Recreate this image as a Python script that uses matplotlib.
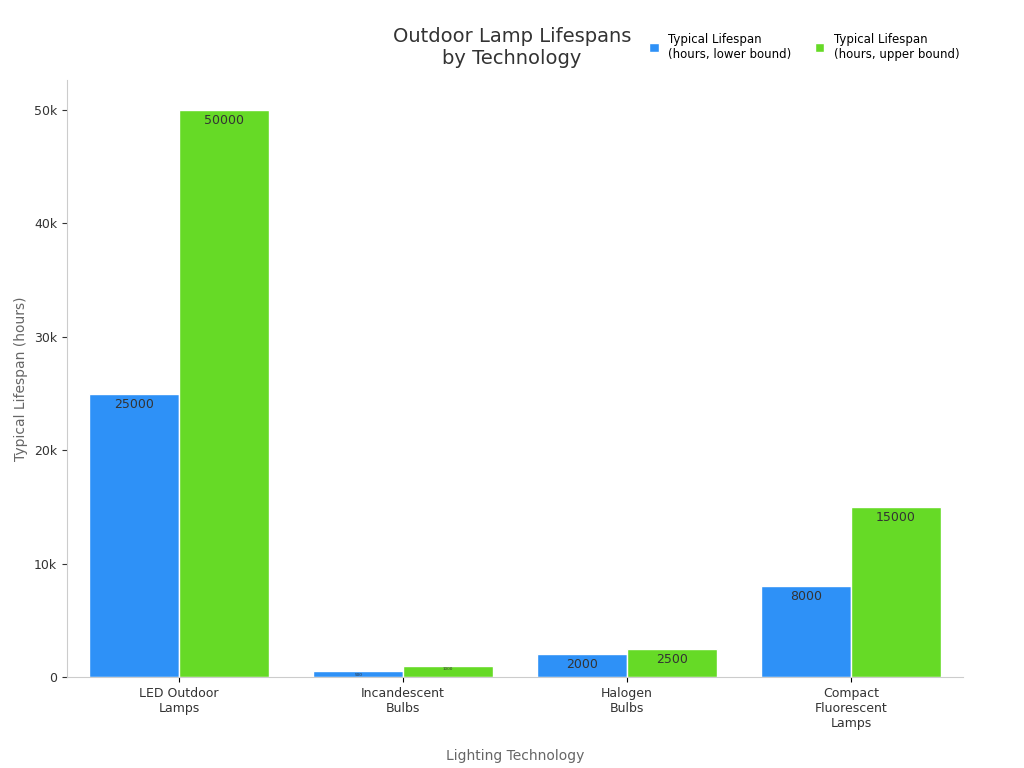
import matplotlib
matplotlib.use("Agg")
import matplotlib.pyplot as plt
import numpy as np
from matplotlib.ticker import FuncFormatter

categories = ["LED Outdoor\nLamps", "Incandescent\nBulbs", "Halogen\nBulbs", "Compact\nFluorescent\nLamps"]
lower = [25000, 500, 2000, 8000]
upper = [50000, 1000, 2500, 15000]
series_names = ["Typical Lifespan\n(hours, lower bound)", "Typical Lifespan\n(hours, upper bound)"]
colors = ["#2E91F7", "#66DA26"]

fig = plt.figure(figsize=(10.24, 7.68), dpi=100)
ax = fig.add_axes([67/1024, 1-677/768, 896/1024, 597/768])
x = np.arange(len(categories))
w = 0.4
for vals, off, c, name in [(lower, -w/2, colors[0], series_names[0]), (upper, w/2, colors[1], series_names[1])]:
    bars = ax.bar(x + off, vals, w, color=c, edgecolor="white", linewidth=1, label=name)
    for b, v in zip(bars, vals):
        fs = 9 if v >= 2000 else 3
        ax.annotate(str(v), (b.get_x() + b.get_width()/2, v), xytext=(0, -3 if v >= 2000 else -1),
                    textcoords="offset points", ha="center", va="top", fontsize=fs, color="#333333")

ax.set_xlim(-0.5, 3.5)
ax.set_ylim(0, 52650)
ax.set_xticks(x)
ax.set_xticklabels(categories, fontsize=9, color="#333333")
ax.set_yticks([0, 10000, 20000, 30000, 40000, 50000])
ax.yaxis.set_major_formatter(FuncFormatter(lambda v, p: "0" if v == 0 else f"{int(v/1000)}k"))
ax.tick_params(axis="y", labelsize=9, colors="#333333")
for s in ["top", "right"]:
    ax.spines[s].set_visible(False)
for s in ["left", "bottom"]:
    ax.spines[s].set_color("#cccccc")
ax.set_xlabel("Lighting Technology", fontsize=10, color="#666666", labelpad=14)
ax.set_ylabel("Typical Lifespan (hours)", fontsize=10, color="#666666")
fig.text(512/1024, 1-47/768, "Outdoor Lamp Lifespans\nby Technology", ha="center", va="center", fontsize=14, color="#333333")
fig.legend(loc="upper right", bbox_to_anchor=(970/1024, 1-22/768), ncol=2, frameon=False, fontsize=8.5,
           handlelength=0.8, handleheight=0.8, columnspacing=2)
fig.savefig("out.png", dpi=100)
